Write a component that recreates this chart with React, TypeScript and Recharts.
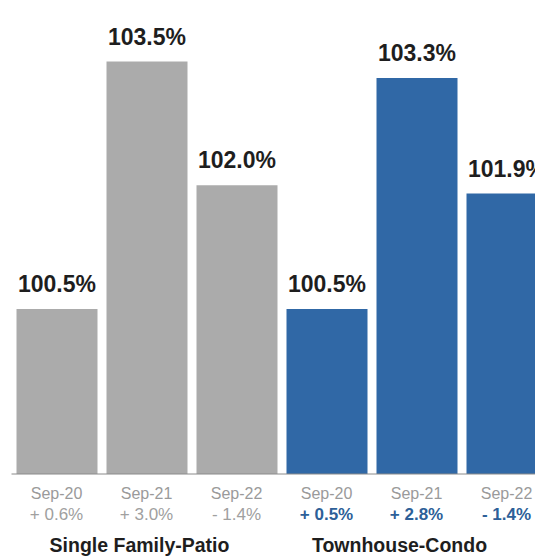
import React from 'react';
import { BarChart, Bar, XAxis, YAxis, Cell, LabelList } from 'recharts';

const periods = ['Sep-20', 'Sep-21', 'Sep-22'];
const groups = ['Single Family-Patio', 'Townhouse-Condo'];
const sfValues = [100.5, 103.5, 102.0];
const tcValues = [100.5, 103.3, 101.9];
const sfChanges = ['+ 0.6%', '+ 3.0%', '- 1.4%'];
const tcChanges = ['+ 0.5%', '+ 2.8%', '- 1.4%'];

const GRAY = '#ababab';
const BLUE = '#3068a6';

const data = [
  ...periods.map((p, i) => ({ key: `sf-${i}`, period: p, value: sfValues[i], change: sfChanges[i], group: 0, idx: i })),
  ...periods.map((p, i) => ({ key: `tc-${i}`, period: p, value: tcValues[i], change: tcChanges[i], group: 1, idx: i })),
];

const FONT = '"Liberation Sans", Arial, Helvetica, sans-serif';

const Tick = (props: any) => {
  const { x, y, payload } = props;
  const row = data.find((d) => d.key === payload.value);
  if (!row) return null;
  const isBlue = row.group === 1;
  return (
    <g transform={`translate(${x},${y})`}>
      <text x={0} y={0} dy={25} textAnchor="middle" fontFamily={FONT} fontSize={16} fill="#9a9a9a">
        {row.period}
      </text>
      <text
        x={0}
        y={0}
        dy={46}
        textAnchor="middle"
        fontFamily={FONT}
        fontSize={17}
        fontWeight={isBlue ? 'bold' : 'normal'}
        fill={isBlue ? '#2d5f98' : '#a0a0a0'}
      >
        {row.change}
      </text>
      {row.idx === 1 && (
        <text
          x={0}
          y={0}
          dx={isBlue ? -17 : -7}
          dy={78}
          textAnchor="middle"
          fontFamily={FONT}
          fontSize={19.5}
          fontWeight="bold"
          fill="#1e1e1e"
        >
          {groups[row.group]}
        </text>
      )}
    </g>
  );
};

export default function App() {
  return (
    <div style={{ width: 535, height: 550, overflow: 'hidden' }}>
      <BarChart
        width={548}
        height={550}
        data={data}
        margin={{ top: 0, right: 4.5, bottom: 0, left: 3.5 }}
        barSize={81}
      >
        <YAxis hide domain={[98.5, 104.15]} allowDataOverflow type="number" />
        <XAxis
          dataKey="key"
          height={84}
          tickSize={0}
          tickMargin={0}
          tickLine={false}
          axisLine={{ stroke: '#8a8a8a', strokeWidth: 1 }}
          tick={<Tick />}
          interval={0}
        />
        <Bar dataKey="value" isAnimationActive={false}>
          {data.map((d) => (
            <Cell key={d.key} fill={d.group === 0 ? GRAY : BLUE} />
          ))}
          <LabelList
            dataKey="value"
            position="top"
            offset={17}
            formatter={(v: any) => `${Number(v).toFixed(1)}%`}
            style={{ fontFamily: FONT, fontSize: 23, fontWeight: 'bold', fill: '#1e1e1e' }}
          />
        </Bar>
      </BarChart>
    </div>
  );
}
